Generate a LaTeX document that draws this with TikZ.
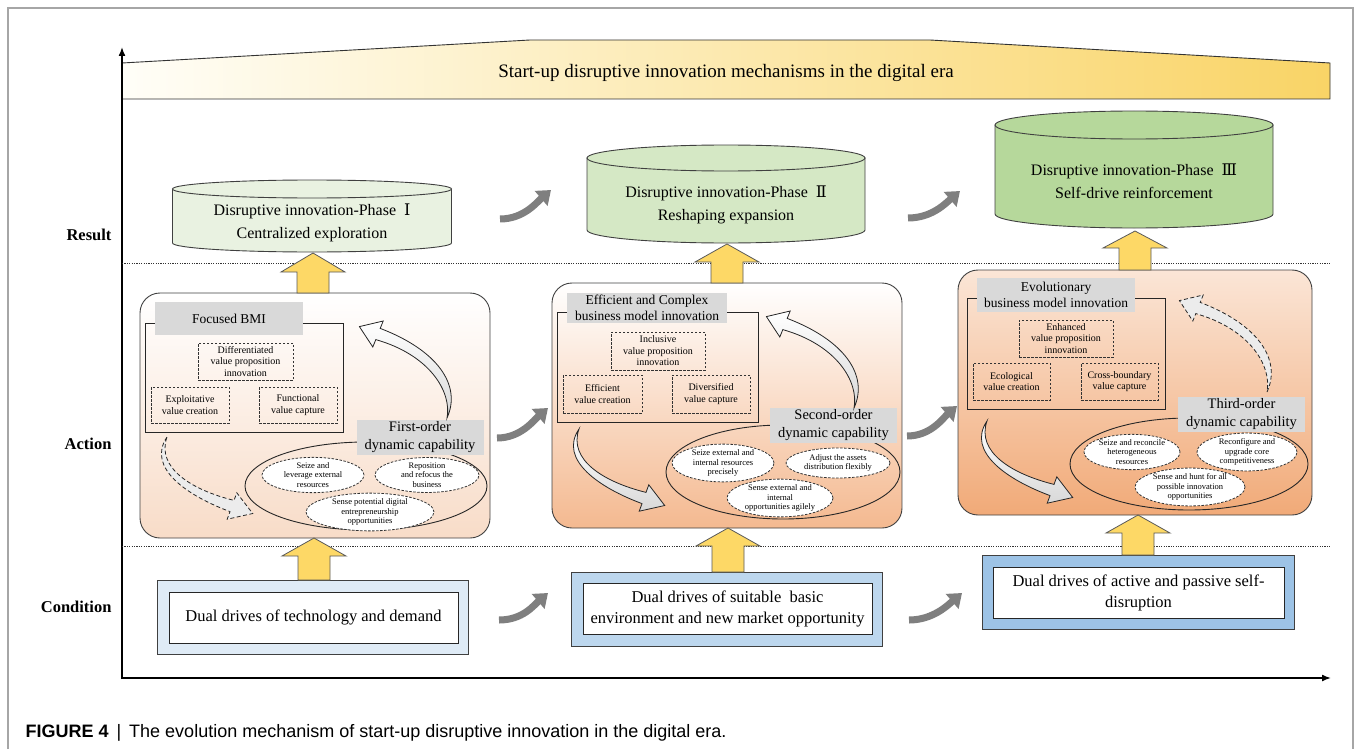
\documentclass[tikz,border=0pt]{standalone}
\usepackage{fontspec}
\setmainfont{Liberation Serif}
\setsansfont{Liberation Sans}
\newfontfamily\numfont{DejaVu Serif}
\usetikzlibrary{arrows.meta,calc,shapes.geometric}
\definecolor{bannerL}{HTML}{FFFEF8}
\definecolor{bannerR}{HTML}{F9D466}
\definecolor{cylA}{HTML}{E9F2E1}
\definecolor{cylB}{HTML}{D5E8C5}
\definecolor{cylC}{HTML}{B6D89B}
\definecolor{yel}{HTML}{FDD866}
\definecolor{labgray}{HTML}{D9D9D9}
\definecolor{actA}{HTML}{F8DCC8}
\definecolor{actB}{HTML}{F4B990}
\definecolor{actC}{HTML}{F1AA78}
\definecolor{condA}{HTML}{DFEBF6}
\definecolor{condB}{HTML}{BDD7EE}
\definecolor{condC}{HTML}{9DC3E6}
\definecolor{garr}{HTML}{7F7F7F}
\definecolor{framecol}{HTML}{A6A6A6}
\definecolor{lineC}{HTML}{404040}
\newcommand\fs[2]{\fontsize{#1}{#2}\selectfont}
\newcommand\drawcyl[6]{%
  \path[fill=#6, draw=lineC, line width=0.9pt] ({#1-#2},#3) -- ({#1-#2},#4)
    .. controls ({#1-#2},{#4+0.5523*#5}) and ({#1-0.5523*#2},{#4+#5}) .. (#1,{#4+#5})
    .. controls ({#1+0.5523*#2},{#4+#5}) and ({#1+#2},{#4+0.5523*#5}) .. ({#1+#2},#4)
    -- ({#1+#2},#3) -- cycle;
  \path[fill=#6, draw=lineC, line width=0.9pt] (#1,#3) ellipse [x radius=#2pt, y radius=#5pt];}
\newcommand\yup[4]{%
  \path[yarrow] ({#1-16},#3) -- ({#1-16},#4) -- ({#1-32},#4) -- (#1,#2) -- ({#1+32},#4)
    -- ({#1+16},#4) -- ({#1+16},#3) -- cycle;}
\newcommand\upperarrow[1]{%
  \path[#1] (447,418) .. controls (462,385) and (437,350) .. (380.2,328.4) -- (383.2,321)
    -- (359.4,326.6) -- (372.8,347) -- (375.8,339.6) .. controls (430,355) and (452,392) .. (447,418) -- cycle;}
\newcommand\lowerarrow[1]{%
  \path[#1] (167,437) .. controls (146,468) and (188,496) .. (230,511.6) -- (227.2,519.2)
    -- (252.7,513.5) -- (236.8,492.8) -- (234,500.4) .. controls (192,490) and (156,468) .. (167,437) -- cycle;}
\begin{document}
\begin{tikzpicture}[x=1pt,y=-1pt,
  axis/.style={line width=1.6pt, black},
  dotline/.style={line width=1pt, black!80, dash pattern=on 1.2pt off 1.2pt},
  rowlabel/.style={anchor=east, font=\bfseries\fs{16.5}{20}},
  cyltext/.style={align=center, font=\fs{16}{23.5}},
  yarrow/.style={fill=yel, draw=black!65, line width=0.8pt},
  actbox/.style={draw=lineC, line width=0.9pt, rounded corners=20pt, minimum width=350pt, minimum height=245pt, inner sep=0},
  innerbox/.style={draw=black!85, line width=0.9pt, inner sep=0},
  graylab/.style={fill=labgray, inner sep=0, align=center, font=\fs{13.5}{16}},
  caplab/.style={fill=labgray, inner sep=0, align=center, font=\fs{14.5}{18}, minimum width=127pt, minimum height=35pt},
  dashbox/.style={draw=black!80, dash pattern=on 2.5pt off 1.5pt, line width=0.8pt, inner sep=0, align=center, font=\fs{10}{11.5}},
  bigell/.style={ellipse, draw=black!85, line width=0.9pt, inner sep=0},
  dell/.style={ellipse, draw=black!80, dash pattern=on 2.5pt off 1.5pt, fill=white, line width=0.8pt, inner sep=0, align=center, font=\fs{8.5}{9.5}},
  condout/.style={draw=lineC, line width=0.9pt, inner sep=0, minimum width=311pt, minimum height=74pt},
  condin/.style={draw=black!85, fill=white, line width=0.9pt, inner sep=0, minimum width=289pt, minimum height=51pt, align=center, font=\fs{16.5}{21}},
  garrow/.style={draw=garr, line width=7pt, -{Triangle[length=13pt,width=19pt]}},
  warrow/.style={draw=black!85, line width=0.8pt, top color=white, bottom color=gray!30},
  wdarrow/.style={draw=black!85, line width=0.8pt, dash pattern=on 4pt off 2.5pt, fill=gray!15}
]
\useasboundingbox (0,0) rectangle (1356,749);
% frame
\draw[framecol, line width=1.2pt] (8,749) -- (8,8) -- (1353,8) -- (1353,749);
% banner
\path[left color=bannerL, right color=bannerR, draw=black!80, line width=0.9pt]
  (122,99) -- (122,63) -- (530,40) -- (930,40) -- (1330,63) -- (1330,99) -- cycle;
\node[font=\fs{19}{22}] (banner) at (726,73) {Start-up disruptive innovation mechanisms in the digital era};
% axes
\coordinate (origin) at (122,678);
\coordinate (ytop) at (122,47);
\coordinate (xend) at (1331,678);
\draw[axis, -{Latex[length=9pt,width=7pt]}] ($(origin)+(0,1)$) -- (ytop);
\draw[axis, -{Latex[length=9pt,width=7pt]}] ($(origin)+(-1,0)$) -- (xend);
% separators
\coordinate (d1a) at (122,263); \coordinate (d1b) at (1330,263);
\coordinate (d2a) at (122,546); \coordinate (d2b) at (1330,546);
\draw[dotline] (d1a) -- (d1b);
\draw[dotline] (d2a) -- (d2b);
% row labels
\node[rowlabel] (lres) at (115,235) {Result};
\node[rowlabel] (lact) at (115,444) {Action};
\node[rowlabel] (lcon) at (115,607) {Condition};
% cylinders
\drawcyl{312}{139.5}{189}{243}{9}{cylA}
\drawcyl{726}{139}{158}{230}{13}{cylB}
\drawcyl{1134}{139}{125}{214}{14}{cylC}
\node[cyltext] (r1) at (312,223) {Disruptive innovation-Phase\enspace{\numfont Ⅰ}\\Centralized exploration};
\node[cyltext] (r2) at (726,205) {Disruptive innovation-Phase\enspace{\numfont Ⅱ}\\Reshaping expansion};
\node[cyltext] (r3) at (1134,181) {Disruptive innovation-Phase\enspace{\numfont Ⅲ}\\Self-drive reinforcement};
% action boxes
\node[actbox, top color=white, bottom color=actA] (a1) at (315,415.5) {};
\node[actbox, top color=white, bottom color=actB] (a2) at (727,405.5) {};
\node[actbox, top color=white!70!actC, bottom color=actC, minimum width=354pt] (a3) at (1135,392.5) {};
% inner BMI boxes
\node[innerbox, minimum width=198pt, minimum height=109pt] (b1) at (244,377.5) {};
\node[innerbox, minimum width=201pt, minimum height=110pt] (b2) at (657.5,367) {};
\node[innerbox, minimum width=198pt, minimum height=111pt] (b3) at (1066,353.5) {};
\node[graylab, minimum width=148pt, minimum height=33pt] (g1) at (229,318.5) {Focused BMI};
\node[graylab, minimum width=160pt, minimum height=30pt] (g2) at (647,308) {Efficient and Complex\\business model innovation};
\node[graylab, minimum width=158pt, minimum height=34pt] (g3) at (1056,295) {Evolutionary\\business model innovation};
% dashed boxes
\node[dashbox, minimum width=95pt, minimum height=37pt] (v1p) at (245.5,361.5) {Differentiated\\value proposition\\innovation};
\node[dashbox, minimum width=78pt, minimum height=36pt] (v1c) at (190,405) {Exploitative\\value creation};
\node[dashbox, minimum width=78pt, minimum height=36pt] (v1k) at (298,405) {Functional\\value capture};
\node[dashbox, minimum width=94pt, minimum height=38pt] (v2p) at (658,351) {Inclusive\\value proposition\\innovation};
\node[dashbox, minimum width=79pt, minimum height=38pt] (v2c) at (602.5,394) {Efficient\\value creation};
\node[dashbox, minimum width=78pt, minimum height=38pt] (v2k) at (711,394) {Diversified\\value capture};
\node[dashbox, minimum width=94pt, minimum height=37pt] (v3p) at (1066,338.5) {Enhanced\\value proposition\\innovation};
\node[dashbox, minimum width=77pt, minimum height=37pt] (v3c) at (1011.5,381.5) {Ecological\\value creation};
\node[dashbox, minimum width=77pt, minimum height=37pt] (v3k) at (1119.5,381.5) {Cross-boundary\\value capture};
% capability ellipses
\node[bigell, minimum width=242pt, minimum height=88pt] (e1) at (366,486) {};
\node[bigell, minimum width=234pt, minimum height=94pt] (e2) at (783,472) {};
\node[bigell, minimum width=238pt, minimum height=92pt] (e3) at (1189,464) {};
\node[caplab] (k1) at (420,437.5) {First-order\\dynamic capability};
\node[caplab] (k2) at (833.5,425.5) {Second-order\\dynamic capability};
\node[caplab] (k3) at (1241.5,414.5) {Third-order\\dynamic capability};
\node[dell, minimum width=102pt, minimum height=32pt] (s11) at (313,475) {Seize and\\leverage external\\resources};
\node[dell, minimum width=104pt, minimum height=32pt] (s12) at (427,475) {Reposition\\and refocus the\\business};
\node[dell, minimum width=128pt, minimum height=32pt] (s13) at (370,512) {Sense potential digital\\entrepreneurship\\opportunities};
\node[dell, minimum width=102pt, minimum height=32pt] (s21) at (723,463) {Seize external and\\internal resources\\precisely};
\node[dell, minimum width=104pt, minimum height=30pt] (s22) at (838,463) {Adjust the assets\\distribution flexibly};
\node[dell, minimum width=106pt, minimum height=36pt] (s23) at (780,498) {Sense external and\\internal\\opportunities agilely};
\node[dell, minimum width=96pt, minimum height=32pt] (s31) at (1132,452) {Seize and reconcile\\heterogeneous\\resources};
\node[dell, minimum width=100pt, minimum height=32pt] (s32) at (1247,452) {Reconfigure and\\upgrade core\\competitiveness};
\node[dell, minimum width=110pt, minimum height=34pt] (s33) at (1190,487) {Sense and hunt for all\\possible innovation\\opportunities};
% curved block arrows inside action boxes
\upperarrow{warrow}
\lowerarrow{wdarrow}
\begin{scope}[shift={(407,-10)}]\upperarrow{warrow}\end{scope}
\begin{scope}[shift={(412,-8)}]\lowerarrow{warrow}\end{scope}
\begin{scope}[shift={(820,-26)}]\upperarrow{wdarrow}\end{scope}
\begin{scope}[shift={(820,-16)}]\lowerarrow{warrow}\end{scope}
% condition boxes
\node[condout, fill=condA] (co1) at (313,617.5) {};
\node[condout, fill=condB] (co2) at (727,609) {};
\node[condout, fill=condC, minimum width=312pt] (co3) at (1138,592) {};
\node[condin] (c1) at (313.5,617.5) {Dual drives of technology and demand};
\node[condin] (c2) at (727.5,608.5) {Dual drives of suitable\ \ basic\\environment and new market opportunity};
\node[condin, minimum width=291pt] (c3) at (1138.5,592.5) {Dual drives of active and passive self-\\disruption};
% yellow block arrows
\yup{313}{253}{293}{272}
\yup{727}{244}{283}{262}
\yup{1135}{231}{270}{248}
\yup{314}{538}{580}{556}
\yup{728}{528}{572}{546}
\yup{1138}{515}{555}{533}
% grey transition arrows
\foreach \n/\sx/\sy/\ex/\ey in {t1/500/219/551/190, t2/908/218/960/191, t3/497/438/548/408, t4/907/436/957/406, t5/499/620/548/593, t6/909/620/962/593}{
  \coordinate (\n s) at (\sx,\sy);
  \coordinate (\n e) at (\ex,\ey);
  \draw[garrow] (\n s) .. controls ($(\n s)+(24,0)$) and ($(\n e)+(-14,12)$) .. (\n e);
}
% caption
\node[anchor=base west, font=\sffamily\fs{18}{22}] (caption) at (22,737) {\textbf{FIGURE 4}\,\ |\ \,The evolution mechanism of start-up disruptive innovation in the digital era.};
\end{tikzpicture}
\end{document}
